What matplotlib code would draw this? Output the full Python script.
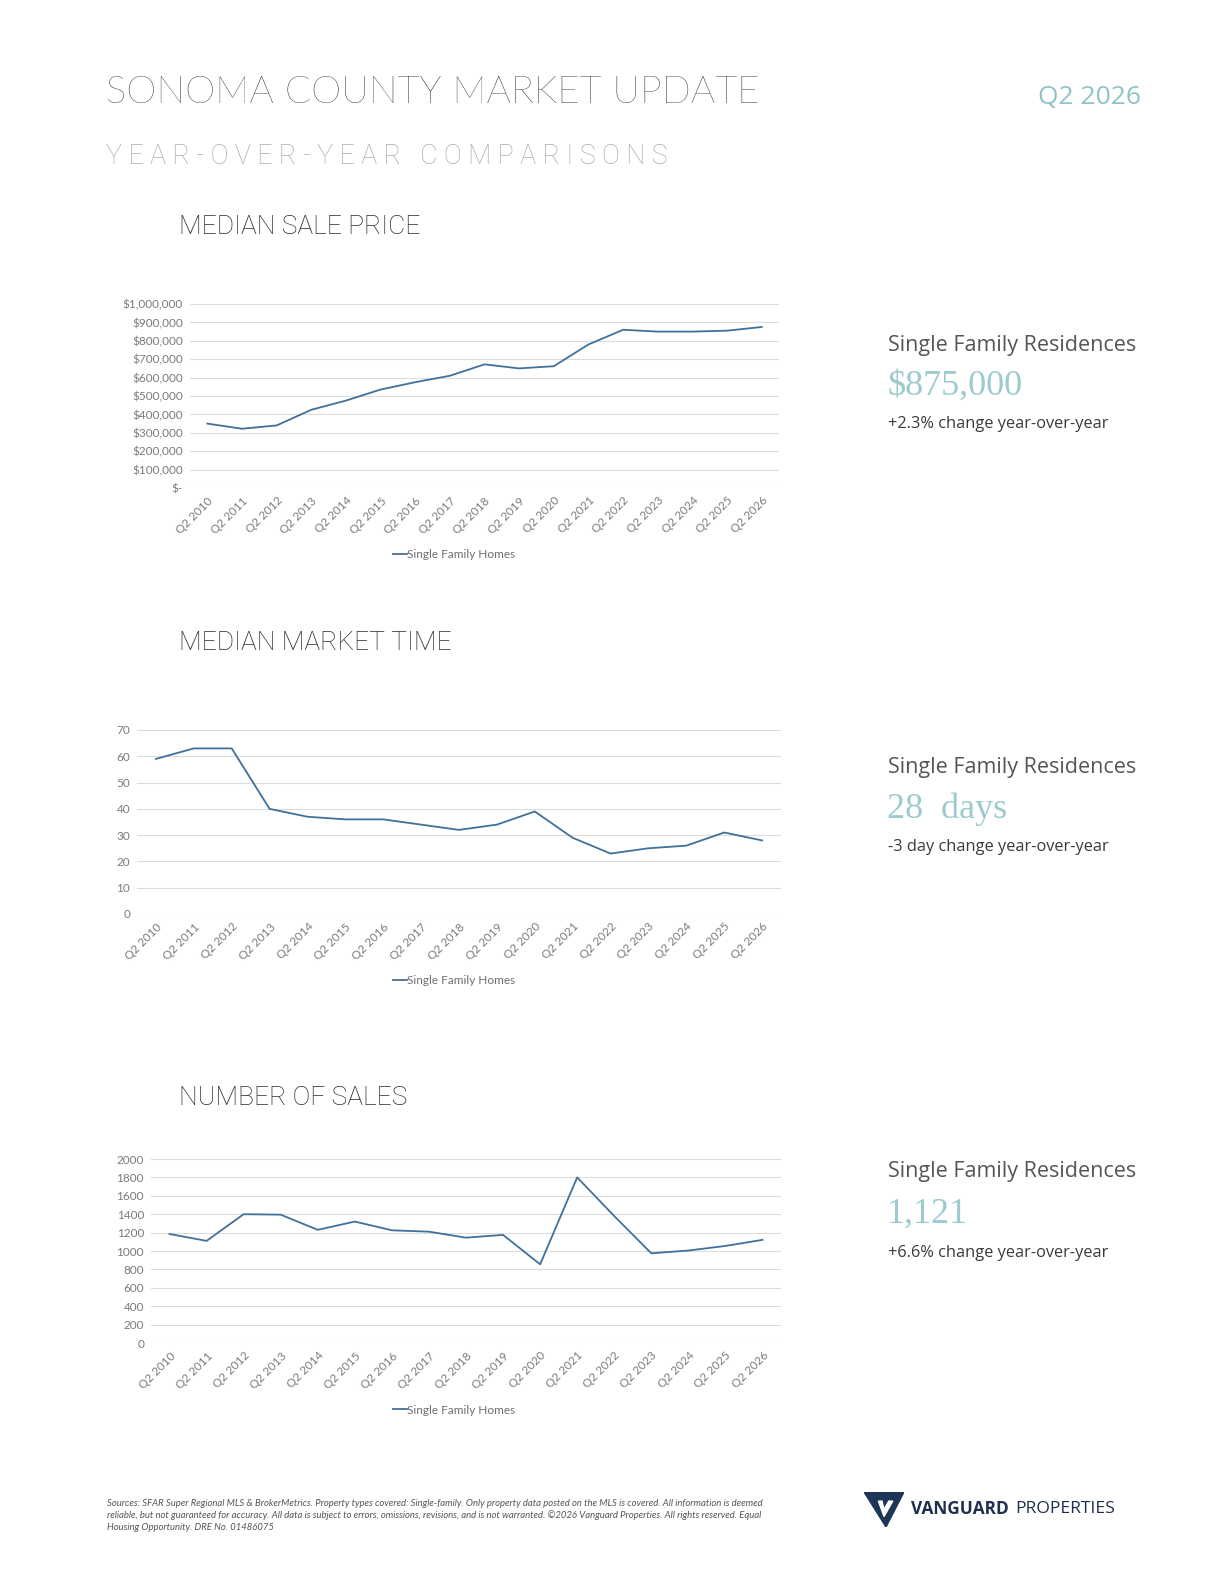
import matplotlib
matplotlib.use("Agg")
import matplotlib.pyplot as plt
from matplotlib.patches import Polygon
from matplotlib.lines import Line2D

W, H = 1224, 1584

# ---------------- data ----------------
quarters = ["Q2 2010", "Q2 2011", "Q2 2012", "Q2 2013", "Q2 2014", "Q2 2015", "Q2 2016",
            "Q2 2017", "Q2 2018", "Q2 2019", "Q2 2020", "Q2 2021", "Q2 2022", "Q2 2023",
            "Q2 2024", "Q2 2025", "Q2 2026"]
median_price = [350000, 322000, 340000, 425000, 475000, 535000, 575000, 610000, 672000,
                650000, 662000, 780000, 860000, 850000, 850000, 855000, 875000]
market_time = [59, 63, 63, 40, 37, 36, 36, 34, 32, 34, 39, 29, 23, 25, 26, 31, 28]
num_sales = [1185, 1110, 1400, 1395, 1230, 1320, 1225, 1210, 1145, 1175, 855, 1800, 1380,
             975, 1005, 1055, 1121]

price_ticks = [0, 100000, 200000, 300000, 400000, 500000, 600000, 700000, 800000, 900000, 1000000]
price_tick_labels = ["$-", "$100,000", "$200,000", "$300,000", "$400,000", "$500,000",
                     "$600,000", "$700,000", "$800,000", "$900,000", "$1,000,000"]
time_ticks = [0, 10, 20, 30, 40, 50, 60, 70]
sales_ticks = [0, 200, 400, 600, 800, 1000, 1200, 1400, 1600, 1800, 2000]

series_name = "Single Family Homes"
section_titles = ["MEDIAN SALE PRICE", "MEDIAN MARKET TIME", "NUMBER OF SALES"]
side_heads = ["Single Family Residences"] * 3
side_values = ["$875,000", "28  days", "1,121"]
side_changes = ["+2.3% change year-over-year", "-3 day change year-over-year",
                "+6.6% change year-over-year"]

# ---------------- style ----------------
LINE_C = "#41709a"
GRID_C = "#dcdcdc"
TICK_C = "#7a7a7a"
TEAL = "#8fc3c8"
SANS = ["Lato", "DejaVu Sans"]
WIDE = ["Open Sans", "DejaVu Sans"]
THIN = ["Roboto", "Lato", "DejaVu Sans"]

fig = plt.figure(figsize=(W / 100, H / 100), dpi=100)
fig.patch.set_facecolor("white")


def T(x, y, s, **kw):
    kw.setdefault("family", SANS)
    return fig.text(x / W, 1 - y / H, s, **kw)


def make_axes(left, right, top, bottom):
    return fig.add_axes([left / W, 1 - bottom / H, (right - left) / W, (bottom - top) / H])


def style_chart(ax, values, ticks, ticklabels, ylim, legend_y):
    x = list(range(len(quarters)))
    ax.plot(x, values, color=LINE_C, lw=1.3, solid_joinstyle="round")
    ax.set_xlim(-0.5, len(quarters) - 0.5)
    ax.set_ylim(*ylim)
    ax.set_yticks(ticks)
    ax.set_yticklabels(ticklabels)
    ax.set_xticks(x)
    ax.set_xticklabels(quarters, rotation=45, ha="right", rotation_mode="anchor")
    for sp in ax.spines.values():
        sp.set_visible(False)
    ax.tick_params(length=0, labelsize=8.5, labelcolor=TICK_C, pad=5)
    for lab in ax.get_xticklabels() + ax.get_yticklabels():
        lab.set_family(SANS)
    ax.grid(axis="y", color=GRID_C, lw=0.8)
    ax.set_axisbelow(True)
    handle = Line2D([], [], color=LINE_C, lw=1.3)
    ax.legend([handle], [series_name], loc="center", bbox_to_anchor=(454 / W, 1 - legend_y / H),
              bbox_transform=fig.transFigure, frameon=False, handlelength=1.2,
              handletextpad=0.05, prop={"family": SANS, "size": 8.5},
              labelcolor="#6f6f6f")


# chart 1
ax1 = make_axes(190, 779, 304, 488)
style_chart(ax1, median_price, price_ticks, price_tick_labels, (0, 1000000), 555)
# chart 2
ax2 = make_axes(137, 781, 730, 914)
style_chart(ax2, market_time, time_ticks, [str(t) for t in time_ticks], (0, 70), 981)
# chart 3
ax3 = make_axes(151, 781, 1159, 1343)
style_chart(ax3, num_sales, sales_ticks, [str(t) for t in sales_ticks], (0, 2000), 1410)

# ---------------- header ----------------
T(106, 93, "SONOMA COUNTY MARKET UPDATE", fontsize=27.6, color="#111111",
  fontweight="light", va="center", ha="left")
T(106, 156, "Y E A R - O V E R - Y E A R   C O M P A R I S O N S", fontsize=19.4,
  color="#acacac", fontweight="light", va="center", ha="left", family=THIN)
T(1141, 97, "Q2 2026", fontsize=19, color=TEAL, va="center", ha="right", family=WIDE)

# section titles
for y, s in zip([227, 643, 1098], section_titles):
    T(179, y, s, fontsize=19, color="#2a2a2a", fontweight="light", va="center", ha="left",
      family=THIN)

# side panels
for (yh, yv, yc), head, val, chg in zip([(345, 386, 424), (768, 809, 847), (1172, 1214, 1253)],
                                        side_heads, side_values, side_changes):
    T(888, yh, head, fontsize=15.5, color="#555555", va="center", ha="left", family=WIDE)
    T(887, yv, val, fontsize=26, color="#9ccbcf", va="center", ha="left",
      family=["Liberation Serif", "DejaVu Serif"])
    T(888, yc, chg, fontsize=11.8, color="#3a3a3a", va="center", ha="left", family=WIDE)

# ---------------- footer ----------------
footer_lines = [
    "Sources: SFAR Super Regional MLS & BrokerMetrics. Property types covered: Single-family. Only property data posted on the MLS is covered. All information is deemed",
    "reliable, but not guaranteed for accuracy. All data is subject to errors, omissions, revisions, and is not warranted. \u00a92026 Vanguard Properties. All rights reserved. Equal",
    "Housing Opportunity. DRE No. 01486075",
]
for i, line in enumerate(footer_lines):
    T(107, 1503 + i * 12, line, fontsize=6.85, color="#555555", style="italic",
      va="center", ha="left")

# logo
logo_ax = fig.add_axes([864 / W, 1 - 1527 / H, 40 / W, 35 / H])
logo_ax.set_xlim(0, 1)
logo_ax.set_ylim(0, 1)
logo_ax.axis("off")
logo_ax.add_patch(Polygon([[0.0, 1.0], [1.0, 1.0], [0.55, 0.0]], closed=True, color="#1d3557"))
logo_ax.add_patch(Polygon([[0.36, 0.74], [0.5, 0.3], [0.72, 0.74], [0.62, 0.74], [0.5, 0.5],
                           [0.45, 0.74]], closed=True, color="white"))
T(911, 1509, "VANGUARD", fontsize=12.4, color="#1d2f4f", fontweight="bold", va="center",
  ha="left", family=WIDE)
T(1015, 1509, "PROPERTIES", fontsize=12.6, color="#1d2f4f", va="center", ha="left",
  family=WIDE)

fig.savefig("out.png", dpi=100, facecolor="white")
